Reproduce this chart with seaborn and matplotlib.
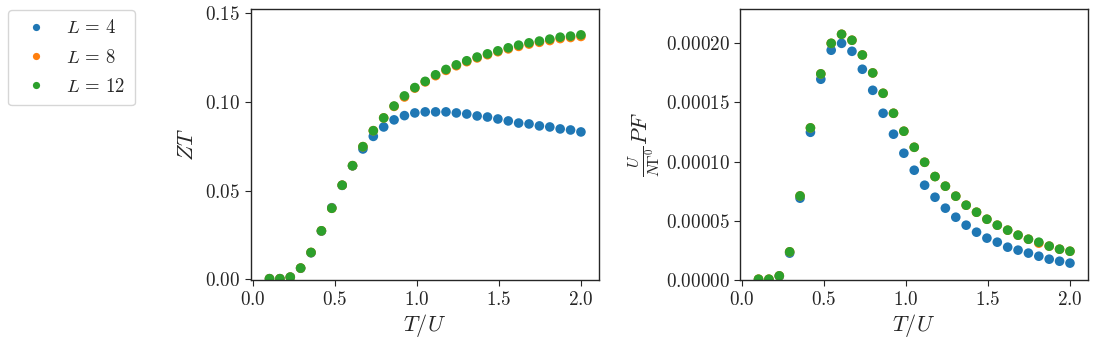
import numpy as np
import pandas as pd
import matplotlib
matplotlib.use("Agg")
import matplotlib.pyplot as plt
import seaborn as sns

# ---- data ----
T_over_U = np.linspace(0.1, 2.0, 31)
sizes = [r"$L\,=\,4$", r"$L\,=\,8$", r"$L\,=\,12$"]

ZT_L4 = [0.0004, 0.0004, 0.0013, 0.0063, 0.0150, 0.0272, 0.0404, 0.0530, 0.0640, 0.0735,
         0.0806, 0.0859, 0.0899, 0.0923, 0.0938, 0.0944, 0.0944, 0.0944, 0.0938, 0.0932,
         0.0921, 0.0915, 0.0904, 0.0893, 0.0881, 0.0876, 0.0865, 0.0859, 0.0848, 0.0842, 0.0831]
ZT_L8 = [0.0004, 0.0004, 0.0013, 0.0064, 0.0152, 0.0274, 0.0401, 0.0531, 0.0641, 0.0748,
         0.0838, 0.0910, 0.0975, 0.1028, 0.1078, 0.1113, 0.1148, 0.1178, 0.1204, 0.1227,
         0.1248, 0.1266, 0.1283, 0.1299, 0.1313, 0.1326, 0.1336, 0.1346, 0.1357, 0.1363, 0.1369]
ZT_L12 = [0.0004, 0.0004, 0.0013, 0.0064, 0.0152, 0.0274, 0.0401, 0.0531, 0.0641, 0.0748,
          0.0838, 0.0910, 0.0977, 0.1034, 0.1081, 0.1116, 0.1153, 0.1183, 0.1209, 0.1232,
          0.1253, 0.1271, 0.1288, 0.1305, 0.1320, 0.1333, 0.1343, 0.1354, 0.1365, 0.1371, 0.1378]

PF_L4 = [0.6e-6, 0.6e-6, 3.6e-6, 23.0e-6, 69.2e-6, 124.6e-6, 169.2e-6, 193.6e-6, 199.4e-6, 192.7e-6,
         177.6e-6, 159.9e-6, 140.6e-6, 123.0e-6, 107.0e-6, 92.7e-6, 80.1e-6, 70.0e-6, 60.8e-6, 53.2e-6,
         46.5e-6, 40.6e-6, 35.6e-6, 32.2e-6, 28.0e-6, 25.5e-6, 23.0e-6, 20.4e-6, 17.9e-6, 16.2e-6, 14.6e-6]
PF_L8 = [1.1e-6, 1.1e-6, 3.9e-6, 24.1e-6, 71.1e-6, 128.3e-6, 173.7e-6, 199.4e-6, 207.0e-6, 202.0e-6,
         189.6e-6, 174.5e-6, 157.4e-6, 140.6e-6, 125.5e-6, 112.0e-6, 99.4e-6, 87.4e-6, 79.3e-6, 70.9e-6,
         63.3e-6, 57.4e-6, 51.5e-6, 46.5e-6, 42.3e-6, 38.1e-6, 34.7e-6, 31.4e-6, 28.9e-6, 26.3e-6, 24.6e-6]
PF_L12 = [1.1e-6, 1.1e-6, 3.9e-6, 24.1e-6, 71.1e-6, 128.3e-6, 173.7e-6, 199.4e-6, 207.0e-6, 202.0e-6,
          189.6e-6, 174.5e-6, 157.4e-6, 140.6e-6, 125.5e-6, 112.0e-6, 99.4e-6, 87.4e-6, 79.3e-6, 70.9e-6,
          63.3e-6, 57.4e-6, 51.5e-6, 46.5e-6, 42.3e-6, 38.1e-6, 34.7e-6, 32.2e-6, 28.9e-6, 26.3e-6, 24.6e-6]

x_ticks = [0.0, 0.5, 1.0, 1.5, 2.0]
zt_ticks = [0.00, 0.05, 0.10, 0.15]
pf_ticks = [0.0, 0.00005, 0.00010, 0.00015, 0.00020]

# ---- build long table ----
frames = []
for lab, zt, pf in zip(sizes, [ZT_L4, ZT_L8, ZT_L12], [PF_L4, PF_L8, PF_L12]):
    frames.append(pd.DataFrame({"T": T_over_U, "ZT": zt, "PF": pf, "L": lab}))
df = pd.concat(frames, ignore_index=True)

sns.set_style("ticks")
plt.rcParams["font.family"] = ["cmr10", "DejaVu Serif"]
plt.rcParams["mathtext.fontset"] = "cm"
plt.rcParams["axes.formatter.use_mathtext"] = True
plt.rcParams["axes.unicode_minus"] = False

palette = sns.color_palette("tab10", 3)

fig = plt.figure(figsize=(10.95, 3.37), dpi=100)
ax1 = fig.add_axes([0.2292, 0.1677, 0.3178, 0.8047])
ax2 = fig.add_axes([0.6758, 0.1677, 0.3178, 0.8047])

sns.scatterplot(data=df, x="T", y="ZT", hue="L", hue_order=sizes, palette=palette,
                s=48, linewidth=0, ax=ax1, legend=True)
sns.scatterplot(data=df, x="T", y="PF", hue="L", hue_order=sizes, palette=palette,
                s=48, linewidth=0, ax=ax2, legend=False)

handles, labels = ax1.get_legend_handles_labels()
ax1.get_legend().remove()

fmt = matplotlib.ticker.FuncFormatter
for ax in (ax1, ax2):
    ax.set_xticks(x_ticks)
    ax.set_xlim(-0.013, 2.11)
    ax.xaxis.set_major_formatter(fmt(lambda v, p: f"${v:.1f}$"))
    ax.set_xlabel("$T/U$", fontsize=16, labelpad=2)
    ax.tick_params(labelsize=13.8, length=4, width=0.8, color="0.15")
    for sp in ax.spines.values():
        sp.set_color("0.15")
        sp.set_linewidth(1.0)

ax1.set_yticks(zt_ticks)
ax1.set_ylim(-0.0006, 0.1522)
ax1.yaxis.set_major_formatter(fmt(lambda v, p: f"${v:.2f}$"))
ax1.set_ylabel("$ZT$", fontsize=16, labelpad=6)

ax2.set_yticks(pf_ticks)
ax2.set_ylim(0.0, 0.000228)
ax2.yaxis.set_major_formatter(fmt(lambda v, p: f"${v:.5f}$"))
ax2.set_ylabel(r"$\frac{U}{N\Gamma^0}PF$", fontsize=16, labelpad=2)

fig.legend(handles, labels,
           loc="upper left", bbox_to_anchor=(0.0073, 0.970), borderaxespad=0,
           fontsize=13.5, markerscale=0.75, handletextpad=0.6, labelspacing=0.6,
           frameon=True, edgecolor="0.8", borderpad=0.5)

fig.savefig("out.png", dpi=100)
